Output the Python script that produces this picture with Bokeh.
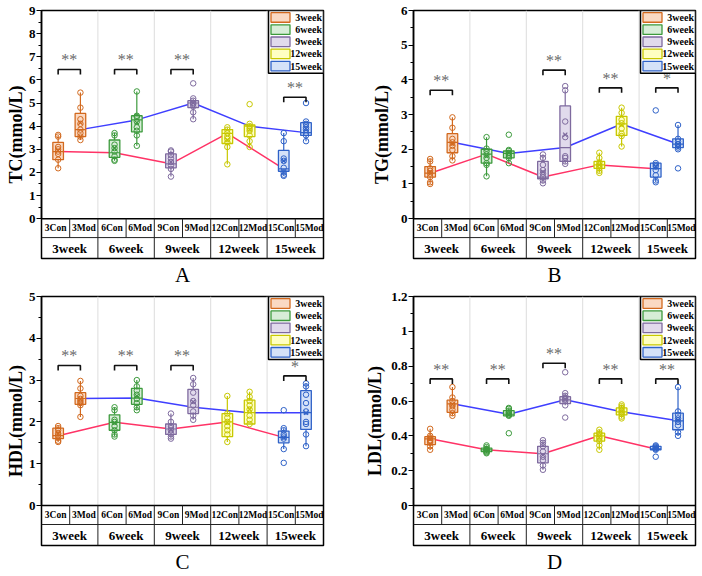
from bokeh.plotting import figure
from bokeh.layouts import gridplot
from bokeh.models import Range1d, FixedTicker, BasicTickFormatter, Title
from bokeh.core.properties import value
from bokeh.embed import file_html
from bokeh.resources import INLINE

# ---------------- data ----------------
categories = ["3Con", "3Mod", "6Con", "6Mod", "9Con", "9Mod", "12Con", "12Mod", "15Con", "15Mod"]
weeks = ["3week", "6week", "9week", "12week", "15week"]

# Panel A : TC
tc_points = [
    [3.62, 3.55, 3.1, 3.0, 2.9, 2.8, 2.55, 2.18],
    [5.45, 4.8, 4.3, 4.1, 3.85, 3.7, 3.55, 3.4],
    [3.7, 3.6, 3.2, 3.05, 2.9, 2.7, 2.55, 2.5],
    [5.5, 4.45, 4.4, 4.2, 3.95, 3.8, 3.6, 3.15],
    [2.95, 2.9, 2.75, 2.6, 2.45, 2.3, 2.15, 1.82],
    [5.85, 5.2, 5.1, 5.0, 4.95, 4.85, 4.6, 4.3],
    [3.95, 3.85, 3.7, 3.55, 3.45, 3.3, 3.1, 2.35],
    [4.95, 4.1, 4.0, 3.9, 3.8, 3.6, 3.35, 3.1],
    [3.7, 3.35, 2.6, 2.5, 2.2, 2.0, 1.9, 1.85],
    [5.0, 4.2, 4.1, 3.95, 3.85, 3.7, 3.6, 3.35],
]
tc_q1 = [2.55, 3.55, 2.65, 3.75, 2.2, 4.8, 3.25, 3.55, 2.05, 3.6]
tc_q3 = [3.3, 4.55, 3.4, 4.45, 2.8, 5.1, 3.85, 4.05, 2.95, 4.15]
tc_lo = [2.18, 3.4, 2.5, 3.15, 1.82, 4.3, 2.35, 3.1, 1.85, 3.35]
tc_hi = [3.62, 5.45, 3.7, 5.5, 2.95, 5.2, 3.95, 4.1, 3.7, 4.2]
tc_med = [2.9, 3.85, 2.85, 4.27, 2.37, 5.0, 3.69, 4.0, 2.15, 3.72]
tc_mean = [2.95, 4.15, 3.05, 4.15, 2.45, 5.0, 3.4, 3.85, 2.5, 3.9]
tc_sig_week = [0, 1, 2, 4]
tc_sig_y = [6.45, 6.45, 6.45, 5.25]
tc_sig_text = ["**", "**", "**", "**"]

# Panel B : TG
tg_points = [
    [1.72, 1.65, 1.45, 1.38, 1.3, 1.2, 1.05, 1.0],
    [2.92, 2.62, 2.3, 2.2, 2.1, 1.98, 1.8, 1.68],
    [2.35, 2.02, 1.95, 1.85, 1.75, 1.6, 1.55, 1.22],
    [2.42, 1.98, 1.95, 1.9, 1.85, 1.8, 1.75, 1.6],
    [1.85, 1.75, 1.55, 1.4, 1.3, 1.2, 1.1, 1.02],
    [3.82, 3.7, 2.8, 2.35, 1.8, 1.75, 1.65, 1.58],
    [1.9, 1.75, 1.62, 1.55, 1.5, 1.45, 1.38, 1.32],
    [3.2, 3.05, 2.85, 2.75, 2.6, 2.45, 2.38, 2.08],
    [3.12, 1.6, 1.55, 1.5, 1.4, 1.25, 1.1, 1.05],
    [2.7, 2.3, 2.22, 2.15, 2.1, 2.05, 2.0, 1.45],
]
tg_q1 = [1.2, 1.9, 1.6, 1.75, 1.15, 1.65, 1.45, 2.4, 1.2, 2.05]
tg_q3 = [1.5, 2.45, 2.0, 1.95, 1.65, 3.25, 1.65, 2.95, 1.6, 2.3]
tg_lo = [1.0, 1.68, 1.22, 1.6, 1.02, 1.58, 1.32, 2.08, 1.05, 2.0]
tg_hi = [1.72, 2.92, 2.35, 1.98, 1.85, 3.7, 1.9, 3.2, 1.6, 2.7]
tg_med = [1.31, 2.2, 1.86, 1.88, 1.2, 2.05, 1.55, 2.73, 1.44, 2.15]
tg_mean = [1.35, 2.15, 1.8, 1.9, 1.35, 2.42, 1.55, 2.7, 1.5, 2.15]
tg_sig_week = [0, 2, 3, 4]
tg_sig_y = [3.7, 4.28, 3.77, 3.77]
tg_sig_text = ["**", "**", "**", "*"]

# Panel C : HDL
hdl_points = [
    [1.9, 1.85, 1.8, 1.72, 1.68, 1.62, 1.55, 1.52],
    [2.98, 2.8, 2.62, 2.55, 2.5, 2.45, 2.4, 2.12],
    [2.35, 2.28, 2.05, 2.0, 1.9, 1.8, 1.7, 1.65],
    [3.0, 2.85, 2.75, 2.65, 2.55, 2.45, 2.35, 2.28],
    [2.2, 2.0, 1.9, 1.85, 1.8, 1.72, 1.65, 1.6],
    [3.05, 2.9, 2.7, 2.5, 2.4, 2.25, 2.15, 2.05],
    [2.62, 2.2, 2.1, 2.0, 1.9, 1.8, 1.7, 1.52],
    [2.72, 2.6, 2.5, 2.4, 2.3, 2.15, 2.05, 1.95],
    [2.28, 1.85, 1.8, 1.7, 1.65, 1.6, 1.35, 1.02],
    [2.92, 2.85, 2.65, 2.45, 2.25, 2.0, 1.95, 1.7, 1.42],
]
hdl_q1 = [1.6, 2.42, 1.8, 2.42, 1.7, 2.2, 1.65, 1.95, 1.5, 1.82]
hdl_q3 = [1.85, 2.7, 2.17, 2.8, 1.95, 2.78, 2.2, 2.52, 1.78, 2.75]
hdl_lo = [1.52, 2.12, 1.65, 2.28, 1.6, 2.05, 1.52, 1.95, 1.35, 1.42]
hdl_hi = [1.9, 2.98, 2.35, 3.0, 2.2, 3.05, 2.62, 2.72, 1.85, 2.92]
hdl_med = [1.67, 2.56, 1.99, 2.57, 1.83, 2.35, 2.0, 2.22, 1.63, 2.22]
hdl_mean = [1.72, 2.55, 1.98, 2.62, 1.82, 2.48, 1.98, 2.3, 1.62, 2.22]
hdl_sig_week = [0, 1, 2, 4]
hdl_sig_y = [3.35, 3.35, 3.35, 3.1]
hdl_sig_text = ["**", "**", "**", "*"]

# Panel D : LDL
ldl_points = [
    [0.44, 0.40, 0.39, 0.375, 0.37, 0.36, 0.34, 0.32],
    [0.68, 0.62, 0.60, 0.58, 0.57, 0.55, 0.53, 0.515],
    [0.345, 0.335, 0.325, 0.32, 0.315, 0.31, 0.305, 0.30],
    [0.56, 0.555, 0.545, 0.535, 0.53, 0.52, 0.515, 0.415],
    [0.375, 0.36, 0.34, 0.31, 0.28, 0.26, 0.23, 0.205],
    [0.765, 0.645, 0.63, 0.62, 0.61, 0.60, 0.575, 0.505],
    [0.435, 0.42, 0.41, 0.395, 0.385, 0.37, 0.345, 0.32],
    [0.58, 0.57, 0.56, 0.545, 0.535, 0.525, 0.51, 0.50],
    [0.345, 0.34, 0.335, 0.33, 0.325, 0.32, 0.28],
    [0.68, 0.54, 0.52, 0.50, 0.48, 0.46, 0.42, 0.40],
]
ldl_q1 = [0.35, 0.535, 0.31, 0.515, 0.245, 0.585, 0.37, 0.52, 0.32, 0.435]
ldl_q3 = [0.395, 0.605, 0.33, 0.545, 0.34, 0.625, 0.415, 0.56, 0.34, 0.53]
ldl_lo = [0.32, 0.515, 0.30, 0.515, 0.205, 0.575, 0.32, 0.50, 0.32, 0.40]
ldl_hi = [0.44, 0.68, 0.345, 0.56, 0.375, 0.645, 0.435, 0.58, 0.345, 0.68]
ldl_med = [0.383, 0.584, 0.32, 0.524, 0.297, 0.607, 0.4, 0.538, 0.325, 0.486]
ldl_mean = [0.38, 0.58, 0.32, 0.52, 0.29, 0.61, 0.39, 0.54, 0.33, 0.49]
ldl_sig_week = [0, 1, 2, 3, 4]
ldl_sig_y = [0.727, 0.727, 0.817, 0.727, 0.727]
ldl_sig_text = ["**", "**", "**", "**", "**"]

# ---------------- styling ----------------
BORDER = ["#D2691E", "#3C9A3C", "#7E6A9E", "#C8C800", "#2F62C8"]
FILL = ["#FAD9C3", "#D7EDD7", "#E1DAEC", "#FFFFC2", "#D5E2F8"]
CON_LINE = "#FF3366"
MOD_LINE = "#3F3FFF"
SERIF = "'Liberation Serif'"

FRAME_W = 282.0
PLOT_H = 209.0
TABLE_H = 40.0
ROW1_H = 19.0
CON_OFF = 0.59
MOD_OFF = 1.38


def panel(letter, ylabel, ymax, interval, precision, pts, q1, q3, lo, hi, med, mean,
          sig_week, sig_y, sig_text, left, right, top, bottom, label_standoff):
    uy = ymax / PLOT_H
    ux = 10.0 / FRAME_W
    ylo = -TABLE_H * uy
    p = figure(width=351, height=288, x_range=Range1d(0, 10), y_range=Range1d(ylo, ymax),
               output_backend="svg", toolbar_location=None, x_axis_location=None,
               min_border_left=left, min_border_right=right,
               min_border_top=top, min_border_bottom=bottom)
    p.xgrid.visible = False
    p.ygrid.visible = False
    p.outline_line_color = "black"
    p.outline_line_width = 1.5

    n = int(round(ymax / interval))
    majors = [round(i * interval, 6) for i in range(n + 1)]
    minors = [round((i + 0.5) * interval, 6) for i in range(n)]
    ax = p.yaxis[0]
    ax.bounds = (0, ymax)
    ax.ticker = FixedTicker(ticks=majors, minor_ticks=minors)
    if precision:
        ax.formatter = BasicTickFormatter(precision=precision)
    ax.axis_line_width = 1.5
    ax.major_tick_in = 0
    ax.major_tick_out = 5
    ax.minor_tick_in = 0
    ax.minor_tick_out = 3
    ax.major_tick_line_width = 1.2
    ax.minor_tick_line_width = 1.2
    ax.major_label_standoff = 1
    ax.major_label_text_font = SERIF
    ax.major_label_text_font_style = "bold"
    ax.major_label_text_font_size = "13px"
    ax.major_label_text_color = "black"
    ax.axis_label = ylabel
    ax.axis_label_text_font = SERIF
    ax.axis_label_text_font_style = "bold"
    ax.axis_label_text_font_size = "18px"
    ax.axis_label_text_color = "black"
    ax.axis_label_standoff = label_standoff

    # group separators
    p.segment(x0=[2, 4, 6, 8], y0=[0] * 4, x1=[2, 4, 6, 8], y1=[ymax] * 4,
              line_color="#DDDDDD", line_width=1)

    xs = [2 * (i // 2) + (CON_OFF if i % 2 == 0 else MOD_OFF) for i in range(10)]
    cols = [BORDER[i // 2] for i in range(10)]
    fills = [FILL[i // 2] for i in range(10)]

    # median connecting lines
    p.line([xs[i] for i in range(0, 10, 2)], [med[i] for i in range(0, 10, 2)],
           line_color=CON_LINE, line_width=1.5)
    p.line([xs[i] for i in range(1, 10, 2)], [med[i] for i in range(1, 10, 2)],
           line_color=MOD_LINE, line_width=1.5)

    hw = 5.3 * ux
    p.segment(x0=xs, y0=q3, x1=xs, y1=hi, line_color=cols, line_width=1.2)
    p.segment(x0=xs, y0=q1, x1=xs, y1=lo, line_color=cols, line_width=1.2)
    p.quad(left=[x - hw for x in xs], right=[x + hw for x in xs], bottom=q1, top=q3,
           fill_color=fills, line_color=cols, line_width=1.3)
    p.segment(x0=[x - hw for x in xs], y0=med, x1=[x + hw for x in xs], y1=med,
              line_color=cols, line_width=1.2)
    p.scatter(x=xs, y=mean, marker="x", size=6, line_color=cols, line_width=1.2)
    px, py, pc = [], [], []
    for i, vals in enumerate(pts):
        for v in vals:
            px.append(xs[i])
            py.append(v)
            pc.append(cols[i])
    p.scatter(x=px, y=py, marker="circle", size=5.5, fill_color=None, line_color=pc,
              line_width=1)

    # significance brackets
    tick = 5 * uy
    for w, yb, s in zip(sig_week, sig_y, sig_text):
        xa = 2 * w + CON_OFF
        xb = 2 * w + MOD_OFF
        p.multi_line(xs=[[xa, xa, xb, xb]], ys=[[yb - tick, yb, yb, yb - tick]],
                     line_color="#111111", line_width=1.6)
        p.text(x=[(xa + xb) / 2], y=[yb + 1.0 * uy], text=[s], text_align="center",
               text_baseline="bottom", text_font=value(SERIF), text_font_size="16px",
               text_color="#6A6A6A")

    # category table
    r1 = -ROW1_H * uy
    p.segment(x0=[0], y0=[0], x1=[10], y1=[0], line_color="black", line_width=1.5)
    p.segment(x0=[0], y0=[r1], x1=[10], y1=[r1], line_color="#222222", line_width=1)
    p.segment(x0=[1, 3, 5, 7, 9], y0=[r1] * 5, x1=[1, 3, 5, 7, 9], y1=[0] * 5,
              line_color="#222222", line_width=1)
    p.segment(x0=[2, 4, 6, 8], y0=[ylo] * 4, x1=[2, 4, 6, 8], y1=[0] * 4,
              line_color="#222222", line_width=1)
    p.text(x=[i + 0.5 for i in range(10)], y=[r1 / 2] * 10, text=categories,
           text_align="center", text_baseline="middle", text_font=value(SERIF),
           text_font_style="bold", text_font_size="9.5px", text_color="black")
    p.text(x=[2 * i + 1 for i in range(5)], y=[(r1 + ylo) / 2] * 5, text=weeks,
           text_align="center", text_baseline="middle", text_font=value(SERIF),
           text_font_style="bold", text_font_size="13px", text_color="black")

    # legend (drawn manually)
    lg_l = 10 - 55 * ux
    lg_b = ymax - 63 * uy
    p.quad(left=[lg_l], right=[10], bottom=[lg_b], top=[ymax], fill_color="white",
           line_color="black", line_width=1.5)
    cy = [ymax - (7.0 + 12.2 * k) * uy for k in range(5)]
    p.quad(left=[lg_l + 2.5 * ux] * 5, right=[lg_l + 21.5 * ux] * 5,
           bottom=[c - 4.8 * uy for c in cy], top=[c + 4.8 * uy for c in cy],
           fill_color=FILL, line_color=BORDER, line_width=1.3)
    p.text(x=[10 - 1.5 * ux] * 5, y=cy, text=weeks, text_align="right",
           text_baseline="middle", text_font=value(SERIF), text_font_style="bold",
           text_font_size="10px", text_color="black")

    t = Title(text=letter, align="center", text_font=SERIF, text_font_size="21px",
              text_font_style="normal", text_color="black", standoff=4,
              vertical_align="bottom")
    p.add_layout(t, "below")
    return p


pA = panel("A", "TC(mmol/L)", 9, 1, None, tc_points, tc_q1, tc_q3, tc_lo, tc_hi, tc_med,
           tc_mean, tc_sig_week, tc_sig_y, tc_sig_text, 41, 28, 10, 29, 0)
pB = panel("B", "TG(mmol/L)", 6, 1, None, tg_points, tg_q1, tg_q3, tg_lo, tg_hi, tg_med,
           tg_mean, tg_sig_week, tg_sig_y, tg_sig_text, 62, 7, 10, 29, 6)
pC = panel("C", "HDL(mmol/L)", 5, 1, None, hdl_points, hdl_q1, hdl_q3, hdl_lo, hdl_hi,
           hdl_med, hdl_mean, hdl_sig_week, hdl_sig_y, hdl_sig_text, 41, 28, 8, 31, 0)
pD = panel("D", "LDL(mmol/L)", 1.2, 0.2, 1, ldl_points, ldl_q1, ldl_q3, ldl_lo, ldl_hi,
           ldl_med, ldl_mean, ldl_sig_week, ldl_sig_y, ldl_sig_text, 62, 7, 8, 31, 3)

layout = gridplot([[pA, pB], [pC, pD]], toolbar_location=None)
open("out.html", "w").write(file_html(layout, INLINE))
